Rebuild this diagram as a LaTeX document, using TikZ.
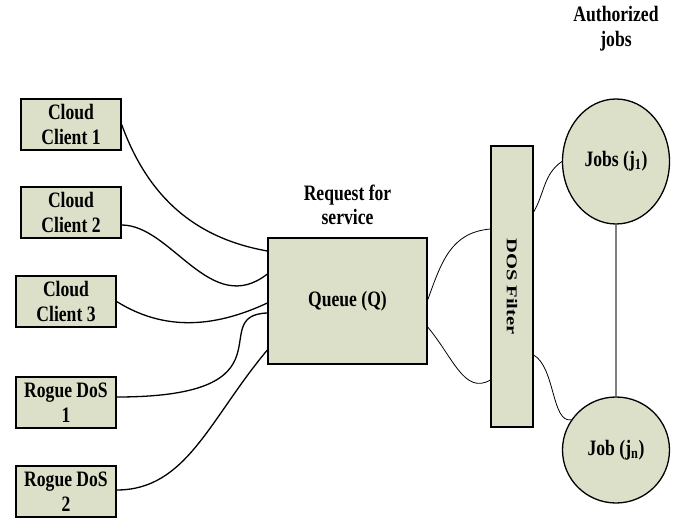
\documentclass[tikz,border=0pt]{standalone}
\usepackage{fontspec}
\setmainfont{Liberation Serif}[FakeStretch=0.8]
\usepackage{graphicx}
\usetikzlibrary{positioning}
\usetikzlibrary{shapes}

\definecolor{boxfill}{RGB}{221,224,201}

\tikzset{
    box/.style={draw, fill=boxfill, line width=1.3pt, align=center, inner sep=0pt},
    clientbox/.style={box, minimum width=100pt, minimum height=51pt},
    jobnode/.style={ellipse, draw, fill=boxfill, line width=1.3pt, minimum width=107pt},
    link/.style={line width=1.3pt},
    thinlink/.style={line width=0.8pt}
}

\begin{document}
\begin{tikzpicture}[x=1pt, y=1pt, font=\fontsize{22}{24.5}\selectfont\bfseries]
    \useasboundingbox (0,0) rectangle (674,528);

    % senders on the left
    \node [clientbox] (client1) at (71,403.5) {Cloud\\Client 1};
    \node [clientbox] (client2) at (71,315.5) {Cloud\\Client 2};
    \node [clientbox] (client3) at (66,226.5) {Cloud\\Client 3};
    \node [clientbox] (rogue1) at (66,125.5) {Rogue DoS\\1};
    \node [clientbox] (rogue2) at (66,36.5) {Rogue DoS\\2};

    % queue and filter
    \node [box, minimum width=159pt, minimum height=126pt] (queue) at (347.5,227) {Queue (Q)};
    \node [align=center, inner sep=0pt] (request) [above=12pt of queue] {Request for\\service};
    \node [box, minimum width=42pt, minimum height=281pt] (filter) at (512,241.5) {\rotatebox{-90}{\scalebox{1.17}[0.68]{DOS Filter}}};

    % jobs
    \node [jobnode, minimum height=125pt] (j1) at (616,366.5) {Jobs (j\textsubscript{1})};
    \node [jobnode, minimum height=106pt] (jn) at (616,78) {Job (j\textsubscript{n})};
    \node [align=center, inner sep=0pt] (authorized) [above=47pt of j1] {Authorized\\jobs};

    \draw [link] (client1.east) to[out=-70, in=170, out distance=70pt, in distance=80pt] ([yshift=50pt]queue.west);
    \draw [link] ([yshift=-12.5pt]client2.east) to[out=0, in=218, out distance=50pt, in distance=72pt] ([yshift=27pt]queue.west);
    \draw [link] (client3.east) to[out=-32, in=205, out distance=55pt, in distance=60pt] ([yshift=-2pt]queue.west);
    \draw [link] ([yshift=5.5pt]rogue1.east) to[out=0, in=182, out distance=182pt, in distance=63pt] ([yshift=-12pt]queue.west);
    \draw [link] ([yshift=1.5pt]rogue2.east) to[out=0, in=230, out distance=70pt, in distance=90pt] ([yshift=-49pt]queue.west);

    \draw [thinlink] ([yshift=1pt]queue.east) to[out=70, in=185, out distance=40pt, in distance=40pt] ([yshift=57.5pt]filter.west);
    \draw [thinlink] ([yshift=-26pt]queue.east) to[out=-50, in=210, out distance=40pt, in distance=30pt] ([yshift=-93.5pt]filter.west);
    \draw [thinlink] ([yshift=74.5pt]filter.east) to[out=60, in=215] (j1.west);
    \draw [thinlink] ([yshift=-68.5pt]filter.east) to[out=-30, in=190, out distance=25pt, in distance=20pt] (jn.146);

    \draw [gray, line width=1.2pt] (j1.south) -- (jn.north);
\end{tikzpicture}
\end{document}
